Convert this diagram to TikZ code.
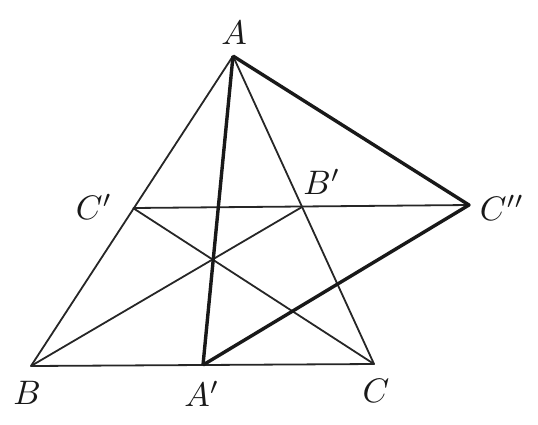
\documentclass[tikz,border=0pt]{standalone}
\begin{document}
\begin{tikzpicture}[x=1pt,y=-1pt,
  thinline/.style={line width=1.8pt,black!85},
  thickline/.style={line width=3.4pt,black!90,line join=round},
  lbl/.style={scale=3.4,inner sep=0pt,text=black!90}]
\useasboundingbox (0,0) rectangle (538,424);
\coordinate (A) at (233,56);
\coordinate (B) at (31,366);
\coordinate (C) at (374,364);
\coordinate (A1) at (203,365);
\coordinate (C1) at (133,208);
\coordinate (B1) at (302,207);
\coordinate (C2) at (469,205);
\draw[thinline,line join=round] (A) -- (B) -- (C) -- cycle;
\draw[thinline] (C1) -- (C2);
\draw[thinline] (C1) -- (C);
\draw[thinline] (B) -- (B1);
\draw[thickline] (A) -- (A1);
\draw[thickline] (A) -- (C2) -- (A1);
\node[lbl] (lA) at (234,33) {$A$};
\node[lbl] (lB) at (27,393) {$B$};
\node[lbl] (lA1) at (202,394) {$A'$};
\node[lbl] (lC) at (376,391) {$C$};
\node[lbl] (lC1) at (94,207) {$C'$};
\node[lbl] (lB1) at (322,182) {$B'$};
\node[lbl] (lC2) at (502,208) {$C''$};
\end{tikzpicture}
\end{document}
